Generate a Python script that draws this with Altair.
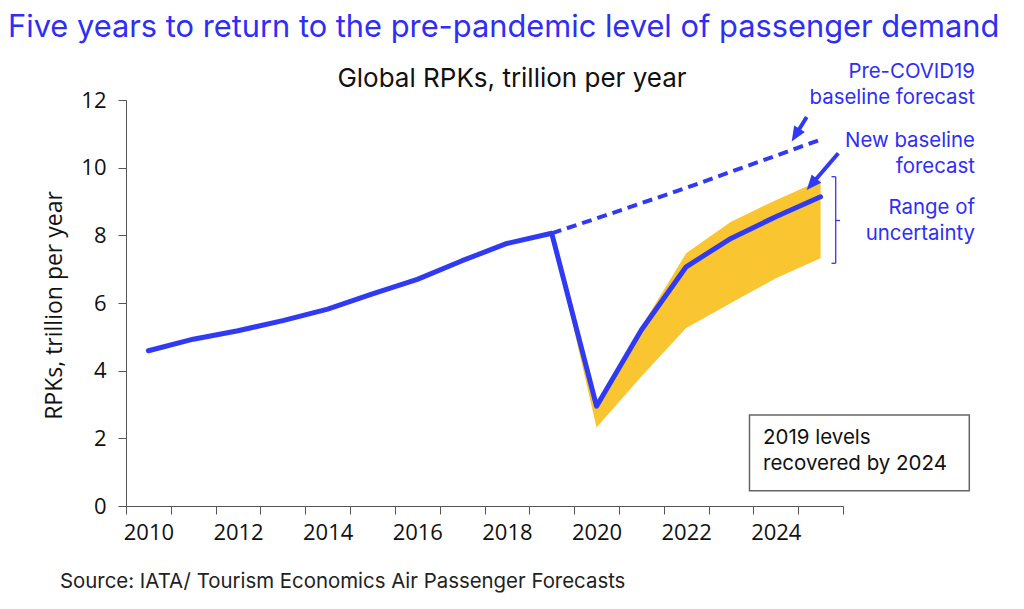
import math
import altair as alt
import pandas as pd

# ---------------- data ----------------
years = list(range(2010, 2026))
rpk_actual_and_new = [4.59, 4.93, 5.18, 5.48, 5.82, 6.27, 6.70, 7.25, 7.76, 8.06,
                      2.95, 5.20, 7.07, 7.91, 8.55, 9.14]
pre_covid_years = [2019, 2020, 2021, 2022, 2023, 2024, 2025]
pre_covid_forecast = [8.06, 8.50, 8.95, 9.40, 9.88, 10.35, 10.83]
band_years = [2019, 2020, 2021, 2022, 2023, 2024, 2025]
band_upper = [8.06, 3.00, 5.30, 7.47, 8.40, 9.04, 9.63]
band_lower = [8.06, 2.32, 3.83, 5.26, 6.00, 6.73, 7.32]

title_text = "Five years to return to the pre-pandemic level of passenger demand"
subtitle_text = "Global RPKs, trillion per year"
y_title = "RPKs, trillion per year"
source_text = "Source: IATA/ Tourism Economics Air Passenger Forecasts"
box_text = ["2019 levels", "recovered by 2024"]
ann_pre = ["Pre-COVID19", "baseline forecast"]
ann_new = ["New baseline", "forecast"]
ann_range = ["Range of", "uncertainty"]

BLUE = "#2f3af2"
TEXT_BLUE = "#2e2ef5"
YELLOW = "#f9c632"
AX_FONT = "Open Sans"
ANN_FONT = "Inter"

W, H = 717, 406

main_df = pd.DataFrame({"year": years, "rpk": rpk_actual_and_new})
pre_df = pd.DataFrame({"year": pre_covid_years, "rpk": pre_covid_forecast})
band_df = pd.DataFrame({"year": band_years, "lo": band_lower, "hi": band_upper})

xscale = alt.Scale(type="band", domain=years, paddingInner=0, paddingOuter=0)
yscale = alt.Scale(domain=[0, 12], nice=False)

x_axis = alt.Axis(
    tickBand="extent", labelExpr="datum.value % 2 == 0 ? datum.label : ''",
    labelAngle=0, labelFont=AX_FONT, labelFontSize=22, labelColor="#111111",
    labelPadding=8, tickSize=8, tickColor="#555555", domainColor="#555555",
    tickWidth=1, domainWidth=1, title=None, grid=False,
)
y_axis = alt.Axis(
    values=[0, 2, 4, 6, 8, 10, 12], labelFont=AX_FONT, labelFontSize=22,
    labelColor="#111111", labelPadding=12, tickSize=8, tickColor="#555555",
    domainColor="#555555", tickWidth=1, domainWidth=1, grid=False,
    title=y_title, titleFont=AX_FONT, titleFontSize=23, titleFontWeight="normal",
    titleColor="#111111", titleX=-72, titleY=205, titleBaseline="middle",
    titleAlign="center", titleAngle=270,
)

band = alt.Chart(band_df).mark_area(color=YELLOW, opacity=1, strokeWidth=0).encode(
    x=alt.X("year:O", scale=xscale, axis=x_axis, bandPosition=0.5),
    y=alt.Y("lo:Q", scale=yscale, axis=y_axis),
    y2="hi:Q",
)
pre_line = alt.Chart(pre_df).mark_line(
    color=BLUE, strokeWidth=4, strokeDash=[10, 6], strokeCap="butt"
).encode(
    x=alt.X("year:O", scale=xscale, bandPosition=0.5),
    y=alt.Y("rpk:Q", scale=yscale),
)
main_line = alt.Chart(main_df).mark_line(
    color=BLUE, strokeWidth=5, strokeJoin="round", strokeCap="round"
).encode(
    x=alt.X("year:O", scale=xscale, bandPosition=0.5),
    y=alt.Y("rpk:Q", scale=yscale),
)

one = pd.DataFrame({"k": [0]})


def txt(lines, x, y, size, color, font, align="left", lh=25.5, weight="normal"):
    return alt.Chart(one).mark_text(
        text=lines, align=align, baseline="alphabetic", fontSize=size,
        font=font, color=color, lineHeight=lh, fontWeight=weight,
    ).encode(x=alt.value(x), y=alt.value(y))


def seg(x1, y1, x2, y2, width, color):
    return alt.Chart(one).mark_rule(color=color, strokeWidth=width, strokeCap="butt").encode(
        x=alt.value(x1), y=alt.value(y1), x2=alt.value(x2), y2=alt.value(y2)
    )


def arrow(x1, y1, tx, ty, color):
    dx, dy = tx - x1, ty - y1
    L = math.hypot(dx, dy)
    head = 15
    ex, ey = tx - dx / L * head * 0.7, ty - dy / L * head * 0.7
    ang = (math.degrees(math.atan2(dx, -dy)) + 360) % 360
    shaft = seg(x1, y1, ex, ey, 4, color)
    tip = alt.Chart(one).mark_point(
        shape="M0,0L-0.42,1L0.42,1Z", filled=True, color=color, opacity=1,
        size=(2 * head) ** 2, angle=ang, strokeWidth=0,
    ).encode(x=alt.value(tx), y=alt.value(ty))
    return shaft + tip


title = txt([title_text], -118, -63, 30.8, TEXT_BLUE, ANN_FONT)
subtitle = txt([subtitle_text], 386, -13.5, 26, "#111111", ANN_FONT, align="center")
source = txt([source_text], -66, 488, 20.4, "#222222", ANN_FONT)

a_pre = txt(ann_pre, 849, -22, 20.4, TEXT_BLUE, ANN_FONT, align="right")
a_new = txt(ann_new, 849, 47, 20.4, TEXT_BLUE, ANN_FONT, align="right")
a_rng = txt(ann_range, 849, 114, 20.4, TEXT_BLUE, ANN_FONT, align="right")

box = alt.Chart(one).mark_rect(fill="white", stroke="#666666", strokeWidth=1.5).encode(
    x=alt.value(623.5), x2=alt.value(843.3), y=alt.value(315), y2=alt.value(390.7)
)
box_t = txt(box_text, 637, 344.3, 20.5, "#111111", ANN_FONT, lh=25.7)

arr1 = arrow(680.7, 17, 665.7, 41.5, BLUE)
arr2 = arrow(712.3, 53.3, 680.7, 90, BLUE)

brk = (
    seg(709.7, 76.7, 709.7, 163.3, 1.3, BLUE)
    + seg(705.5, 76.7, 709.7, 76.7, 1.3, BLUE)
    + seg(705.5, 163.3, 709.7, 163.3, 1.3, BLUE)
    + seg(709.7, 120.5, 714, 120.5, 1.3, BLUE)
)

chart = alt.layer(
    band, pre_line, main_line, box, box_t, title, subtitle, source,
    a_pre, a_new, a_rng, arr1, arr2, brk,
).properties(
    width=W, height=H,
    background="white",
    autosize=alt.AutoSizeParams(type="none"),
    padding={"left": 118, "top": 92, "right": 170, "bottom": 90},
).configure_view(strokeWidth=0, stroke="transparent")

chart.save("out.html", embed_options={"renderer": "svg", "actions": False})
